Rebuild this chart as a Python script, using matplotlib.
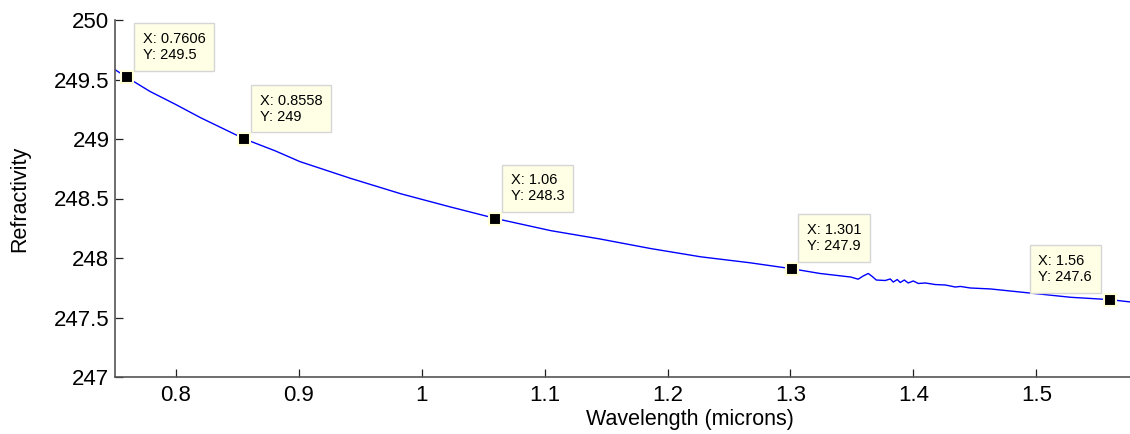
import matplotlib
matplotlib.use('Agg')
import matplotlib.pyplot as plt

plt.rcParams['font.family'] = ['Liberation Sans', 'DejaVu Sans']

# curve
wavelength = [0.751, 0.760, 0.779, 0.800, 0.820, 0.856, 0.881, 0.901, 0.942, 0.983,
              1.023, 1.061, 1.105, 1.145, 1.186, 1.227, 1.267, 1.301, 1.324, 1.349,
              1.3551, 1.3592, 1.3633, 1.3665, 1.3698, 1.3771, 1.3812, 1.3836, 1.3869,
              1.3893, 1.3926, 1.3958, 1.3999, 1.4040, 1.4097, 1.4178, 1.4260, 1.4300,
              1.4341, 1.4382, 1.4463, 1.4626, 1.500, 1.5277, 1.560, 1.577, 1.585]
refractivity = [249.58, 249.52, 249.40, 249.29, 249.18, 249.00, 248.90, 248.81, 248.67, 248.54,
                248.43, 248.33, 248.23, 248.16, 248.08, 248.01, 247.96, 247.91, 247.87, 247.84,
                247.822, 247.849, 247.870, 247.845, 247.815, 247.811, 247.824, 247.798, 247.819,
                247.794, 247.815, 247.790, 247.807, 247.786, 247.790, 247.777, 247.773, 247.765,
                247.756, 247.761, 247.748, 247.74, 247.70, 247.67, 247.65, 247.63, 247.62]

# data tips
tip_x = [0.7606, 0.8558, 1.06, 1.301, 1.56]
tip_y = [249.52, 249.0, 248.33, 247.91, 247.65]
tip_labels = ['X: 0.7606\nY: 249.5', 'X: 0.8558\nY: 249', 'X: 1.06\nY: 248.3',
              'X: 1.301\nY: 247.9', 'X: 1.56\nY: 247.6']

xticks = [0.8, 0.9, 1.0, 1.1, 1.2, 1.3, 1.4, 1.5]
xtick_labels = ['0.8', '0.9', '1', '1.1', '1.2', '1.3', '1.4', '1.5']
yticks = [247, 247.5, 248, 248.5, 249, 249.5, 250]
ytick_labels = ['247', '247.5', '248', '248.5', '249', '249.5', '250']

fig = plt.figure(figsize=(11.3, 4.34), dpi=100)
# axes runs past the right edge of the picture (cropped screenshot)
ax = fig.add_axes([115 / 1130, 57 / 434, 1150 / 1130, 357 / 434])

ax.plot(wavelength, refractivity, color='#0000ff', lw=1.0)
ax.plot(tip_x, tip_y, ls='none', marker='s', ms=9, mfc='black', mec='#ffffd8', mew=1.5, zorder=5)

for i, (x, y, lab) in enumerate(zip(tip_x, tip_y, tip_labels)):
    # last tip sits up-left of its point, the rest up-right
    if i == len(tip_x) - 1:
        off, ha = (-13, 11), 'right'
    else:
        off, ha = (11, 11), 'left'
    ax.annotate(lab, xy=(x, y), xytext=off, textcoords='offset points',
                ha=ha, va='bottom', multialignment='left', fontsize=10.5, linespacing=1.2,
                bbox=dict(boxstyle='square,pad=0.6', fc='#ffffe6', ec='#d6d6d6', lw=1.0),
                zorder=6)

ax.set_xlim(0.7506, 1.686)
ax.set_ylim(247, 250)
ax.set_xticks(xticks)
ax.set_xticklabels(xtick_labels)
ax.set_yticks(yticks)
ax.set_yticklabels(ytick_labels)

for s in ['top', 'right']:
    ax.spines[s].set_visible(False)
for s in ['left', 'bottom']:
    ax.spines[s].set_color('#555555')
    ax.spines[s].set_linewidth(1.2)

ax.tick_params(axis='both', direction='in', length=6, width=0.9, color='#222222',
               labelsize=16, pad=6)
ax.tick_params(axis='y', pad=4)

ax.set_xlabel('Wavelength (microns)', fontsize=15.5, labelpad=2)
ax.set_ylabel('Refractivity', fontsize=15.5, labelpad=17)

fig.savefig('out.png', dpi=100)
